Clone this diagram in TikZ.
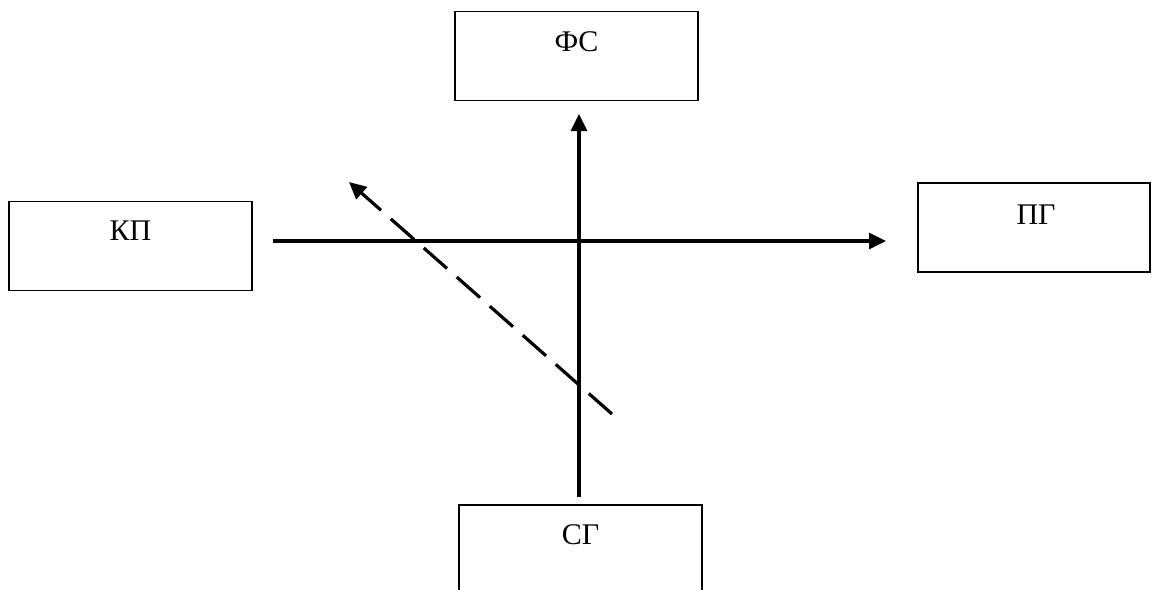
\documentclass[tikz,border=0pt]{standalone}
\usepackage{fontspec}
\setmainfont{Liberation Serif}
\usepackage{tikz}
\usetikzlibrary{arrows.meta,calc}
\tikzset{
  box/.style={draw=black, line width=0.75pt, minimum width=121.5pt, minimum height=44.5pt, inner sep=0pt},
  boxtext/.style={inner sep=0pt, font=\fontsize{15}{18}\selectfont},
  arrow/.style={-{Triangle[length=8.5pt,width=8pt]}, line width=1.6pt},
  dasharrow/.style={arrow, dash pattern=on 15.5pt off 6.5pt}
}
\begin{document}
\begin{tikzpicture}[x=0.5pt,y=-0.5pt]
\useasboundingbox (0,0) rectangle (1154,589);

\node[box] (fs) at (576.5,56) {};
\node[boxtext] (fstext) at ($(fs.north)+(0,31)$) {ФС};
\node[box] (kp) at (130.5,246) {};
\node[boxtext] (kptext) at ($(kp.north)+(0,30)$) {КП};
\node[box, minimum width=116pt] (pg) at (1034,227.5) {};
\node[boxtext] (pgtext) at ($(pg.north)+(2,32)$) {ПГ};
\node[box] (sg) at (580.5,549.5) {};
\node[boxtext] (sgtext) at ($(sg.north)+(0,30)$) {СГ};

\coordinate (hstart) at (273,241);
\coordinate (hend) at (886,241);
\coordinate (vstart) at (579,497);
\coordinate (vend) at (579,114);
\coordinate (dstart) at (612,414);
\coordinate (dend) at (349,182);

\draw[arrow] (hstart) -- (hend);
\draw[arrow] (vstart) -- (vend);
\draw[dasharrow] (dstart) -- (dend);
\end{tikzpicture}
\end{document}
